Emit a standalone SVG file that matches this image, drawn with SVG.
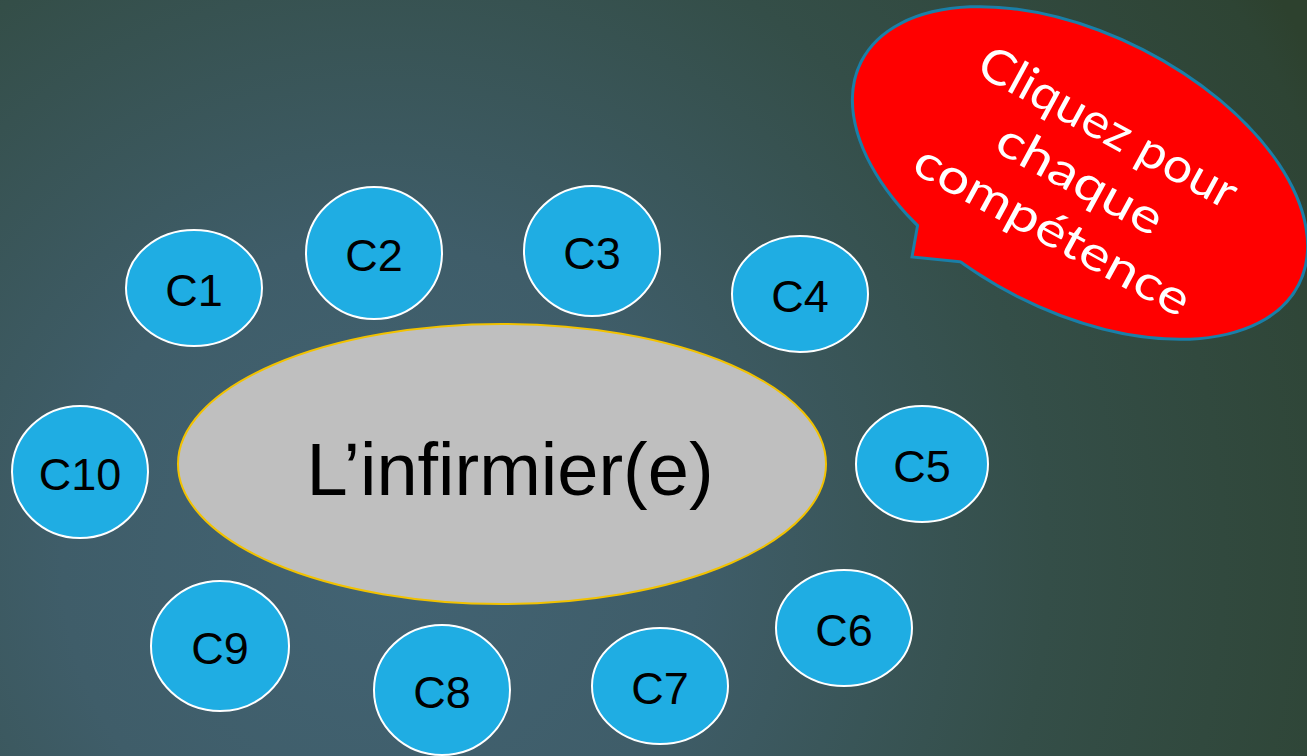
<svg xmlns="http://www.w3.org/2000/svg" width="1307" height="756" viewBox="0 0 1307 756">
<defs>
<radialGradient id="bg" gradientUnits="userSpaceOnUse" cx="380" cy="560" r="1060">
<stop offset="0" stop-color="#426373"/>
<stop offset="0.3" stop-color="#3F5D69"/>
<stop offset="0.63" stop-color="#344E48"/>
<stop offset="0.96" stop-color="#2E4434"/>
<stop offset="1" stop-color="#2D412E"/>
</radialGradient>
<style>
.c{fill:#1FADE3;stroke:#FFFFFF;stroke-width:2}
.cl{font-family:"Liberation Sans",Arial,sans-serif;font-size:45px;fill:#000;text-anchor:middle}
.ct{font-family:Lato,"Open Sans",sans-serif;font-size:48px;fill:#FFFFFF;text-anchor:middle}
</style>
</defs>
<rect width="1307" height="756" fill="url(#bg)"/>
<g id="connectors"/>
<g id="center">
<ellipse cx="502" cy="464" rx="324" ry="140" fill="#BFBFBF" stroke="#F2C200" stroke-width="2"/>
<text x="510" y="495" font-family="'Liberation Sans',Arial,sans-serif" font-size="74" fill="#000" text-anchor="middle">L’infirmier(e)</text>
</g>
<g id="C1"><ellipse class="c" cx="194" cy="288" rx="68" ry="58"/><text class="cl" x="194" y="306">C1</text></g>
<g id="C2"><ellipse class="c" cx="374" cy="253" rx="68" ry="66"/><text class="cl" x="374" y="271">C2</text></g>
<g id="C3"><ellipse class="c" cx="592" cy="251" rx="68" ry="65"/><text class="cl" x="592" y="269">C3</text></g>
<g id="C4"><ellipse class="c" cx="800" cy="294" rx="68" ry="58"/><text class="cl" x="800" y="312">C4</text></g>
<g id="C5"><ellipse class="c" cx="922" cy="464" rx="66" ry="58"/><text class="cl" x="922" y="482">C5</text></g>
<g id="C6"><ellipse class="c" cx="844" cy="628" rx="68" ry="58"/><text class="cl" x="844" y="646">C6</text></g>
<g id="C7"><ellipse class="c" cx="660" cy="686" rx="68" ry="58"/><text class="cl" x="660" y="704">C7</text></g>
<g id="C8"><ellipse class="c" cx="442" cy="690" rx="68" ry="65"/><text class="cl" x="442" y="708">C8</text></g>
<g id="C9"><ellipse class="c" cx="220" cy="646" rx="69" ry="65"/><text class="cl" x="220" y="664">C9</text></g>
<g id="C10"><ellipse class="c" cx="80" cy="472" rx="68" ry="66"/><text class="cl" x="80" y="490">C10</text></g>
<g id="callout">
<ellipse cx="1080" cy="173" rx="244" ry="137" transform="rotate(27 1080 173)" fill="#FF0000" stroke="#1A7FA8" stroke-width="6"/>
<polygon points="935,185 921,206 912,257 992,265 1010,245" fill="#FF0000" stroke="#1A7FA8" stroke-width="3" stroke-linejoin="miter"/>
<ellipse cx="1080" cy="173" rx="244" ry="137" transform="rotate(27 1080 173)" fill="#FF0000"/>
<g transform="rotate(28.5 1078 183)">
<text class="ct" x="1078" y="136" textLength="287" lengthAdjust="spacingAndGlyphs">Cliquez pour</text>
<text class="ct" x="1078" y="195" textLength="182" lengthAdjust="spacingAndGlyphs">chaque</text>
<text class="ct" x="1078" y="253" textLength="307" lengthAdjust="spacingAndGlyphs">compétence</text>
</g>
</g>
</svg>
